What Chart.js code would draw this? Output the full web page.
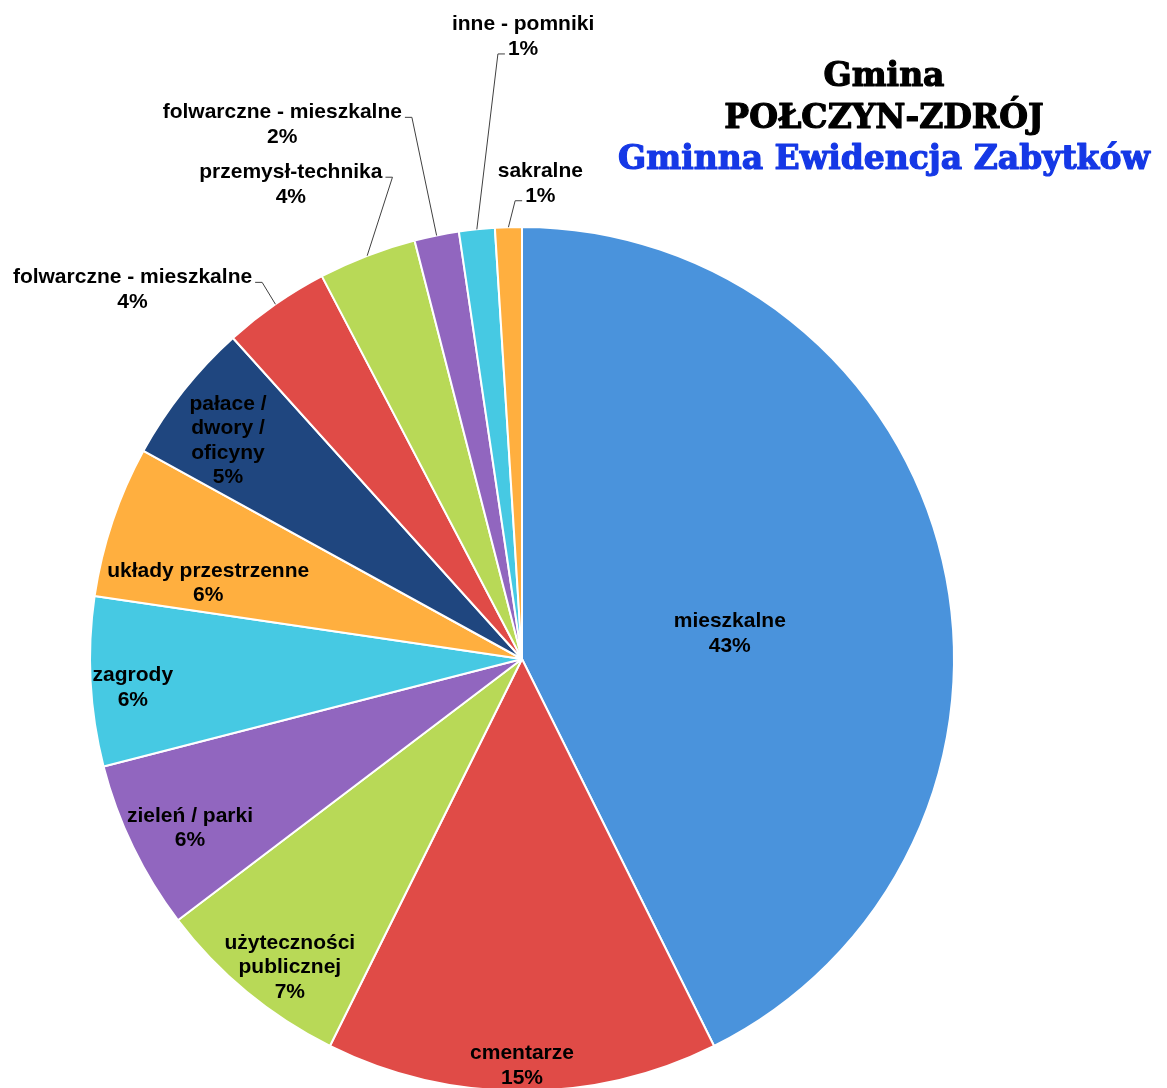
<!DOCTYPE html>
<html>
<head>
<meta charset="utf-8">
<script src="https://cdn.jsdelivr.net/npm/chart.js@4.4.0/dist/chart.umd.min.js"></script>
<style>
html, body { margin: 0; padding: 0; background: #fff; overflow: hidden; }
#wrap { width: 1167px; height: 1100px; }
</style>
</head>
<body>
<div id="wrap"><canvas id="pieChart" width="1167" height="1100"></canvas></div>
<script>
const categories = [
    'mieszkalne',
    'cmentarze',
    ['użyteczności', 'publicznej'],
    'zieleń / parki',
    'zagrody',
    'układy przestrzenne',
    ['pałace /', 'dwory /', 'oficyny'],
    'folwarczne - mieszkalne',
    'przemysł-technika',
    'folwarczne - mieszkalne',
    'inne - pomniki',
    'sakralne'
];
const counts = [128, 44, 22, 19, 19, 17, 16, 12, 11, 5, 4, 3];
const sliceColors = [
    '#4A93DC', '#E04B47', '#B8D957', '#9166BF', '#46C9E3', '#FFAF3F',
    '#1F467F', '#E04B47', '#B8D957', '#9166BF', '#46C9E3', '#FFAF3F'
];
const titleLines = ['Gmina', 'POŁCZYN-ZDRÓJ', 'Gminna Ewidencja Zabytków'];

// where each label sits: distance (fraction of radius), angle nudge (deg), leader line?
const labelPlacement = [
    { r: 0.485, nudge: 5.8 },
    { r: 0.9375, nudge: 0 },
    { r: 0.891, nudge: -2.5 },
    { r: 0.861, nudge: -1.0 },
    { r: 0.903, nudge: -1.0 },
    { r: 0.748, nudge: -4.8 },
    { r: 0.85, nudge: -1.6 },
    { r: 1.245, nudge: -11.6, leader: true },
    { r: 1.225, nudge: -4.9, leader: true },
    { r: 1.359, nudge: -12.7, leader: true },
    { r: 1.444, nudge: 6.1, leader: true },
    { r: 1.105, nudge: 4.0, leader: true }
];

const total = counts.reduce((a, b) => a + b, 0);

const sliceLabels = {
    id: 'sliceLabels',
    afterDatasetsDraw(chart) {
        const ctx = chart.ctx;
        const meta = chart.getDatasetMeta(0);
        const lh = 24.5;
        ctx.save();
        ctx.font = 'bold 21px "Liberation Sans", Arial, sans-serif';
        ctx.textAlign = 'center';
        ctx.textBaseline = 'middle';
        ctx.fillStyle = '#000';
        meta.data.forEach((arc, i) => {
            const { x, y, startAngle, endAngle, outerRadius } =
                arc.getProps(['x', 'y', 'startAngle', 'endAngle', 'outerRadius'], true);
            const place = labelPlacement[i];
            const mid = (startAngle + endAngle) / 2;
            const a = mid + place.nudge * Math.PI / 180;
            const cx = x + Math.cos(a) * outerRadius * place.r;
            const cy = y + Math.sin(a) * outerRadius * place.r + 1.5;
            const lines = [].concat(categories[i], Math.round(counts[i] / total * 100) + '%');
            const top = cy - (lines.length - 1) * lh / 2;
            lines.forEach((t, k) => ctx.fillText(t, cx, top + k * lh));

            if (place.leader) {
                const px = x + Math.cos(mid) * outerRadius;
                const py = y + Math.sin(mid) * outerRadius;
                const onLeft = cx < px;
                const k = onLeft ? 0 : lines.length - 1;
                const w = ctx.measureText(lines[k]).width;
                const edge = onLeft ? cx + w / 2 : cx - w / 2;
                const dir = onLeft ? 1 : -1;
                const ly = top + k * lh + 5;
                ctx.beginPath();
                ctx.moveTo(px, py);
                ctx.lineTo(edge + dir * 10, ly);
                ctx.lineTo(edge + dir * 3, ly);
                ctx.strokeStyle = '#404040';
                ctx.lineWidth = 1;
                ctx.stroke();
            }
        });
        ctx.restore();
    }
};

const titleBlock = {
    id: 'titleBlock',
    afterDraw(chart) {
        const ctx = chart.ctx;
        ctx.save();
        ctx.font = 'bold 33px "DejaVu Serif", serif';
        ctx.textAlign = 'center';
        ctx.textBaseline = 'alphabetic';
        ctx.lineWidth = 1.2;
        ctx.lineJoin = 'round';
        const baselines = [86, 128, 169];
        titleLines.forEach((t, i) => {
            const col = i === 2 ? '#1538E6' : '#000';
            ctx.fillStyle = col;
            ctx.strokeStyle = col;
            ctx.fillText(t, 884, baselines[i]);
            ctx.strokeText(t, 884, baselines[i]);
        });
        ctx.restore();
    }
};

const ctx = document.getElementById('pieChart').getContext('2d');

let pie_chart = new Chart(ctx, {
    type: 'pie',
    data: {
        labels: categories,
        datasets: [{
            data: counts,
            backgroundColor: sliceColors,
            borderColor: '#ffffff',
            borderWidth: 2
        }]
    },
    options: {
        responsive: false,
        animation: false,
        layout: {
            padding: { left: 89, right: 212, top: 226, bottom: 8 }
        },
        plugins: {
            legend: { display: false },
            tooltip: { enabled: false }
        }
    },
    plugins: [sliceLabels, titleBlock]
});
</script>
</body>
</html>
